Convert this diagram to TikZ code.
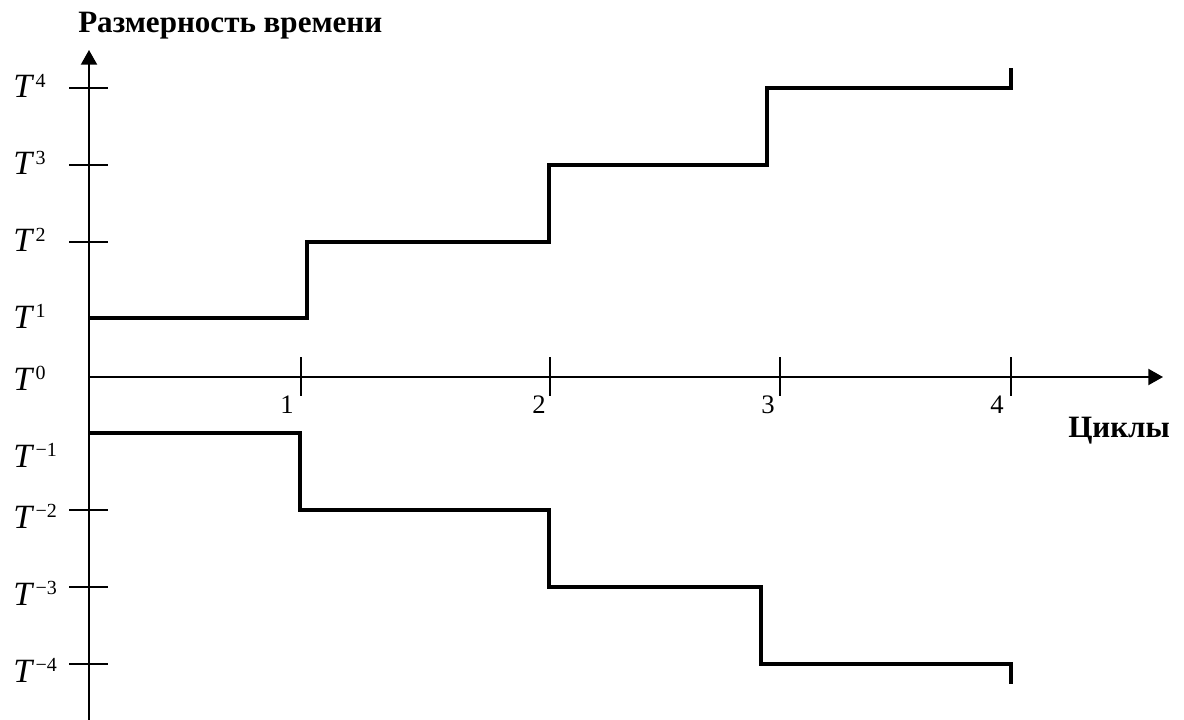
\documentclass[tikz,border=0pt]{standalone}
\usepackage{fontspec}
\setmainfont{Liberation Serif}
\usetikzlibrary{arrows.meta}
\newcommand{\Tpow}[1]{{\fontsize{25.5}{25.5}\selectfont\itshape T\kern2.5pt\raisebox{8pt}{\upshape\fontsize{15}{15}\selectfont #1}}}
\begin{document}
\begin{tikzpicture}[x=0.75pt,y=-0.75pt,
  axis/.style={line width=1.5pt},
  stair/.style={line width=2.6pt, line join=miter},
  tlab/.style={anchor=base west, inner sep=0pt},
  xlab/.style={anchor=base east, inner sep=0pt, font=\fontsize{20}{20}\selectfont},
  title/.style={inner sep=0pt, font=\fontsize{23.3}{23.3}\selectfont\bfseries},
  tip/.style={-{Triangle[length=11pt,width=12pt]}}]
\useasboundingbox (0,0) rectangle (1184,720);
% axes
\coordinate (ybot) at (89,720);
\coordinate (ytop) at (89,50);
\coordinate (xorg) at (89,377);
\coordinate (xend) at (1163,377);
\draw[axis,tip] (ybot) -- (ytop);
\draw[axis,tip] (xorg) -- (xend);
% y ticks
\foreach \yy in {88,165,242,510,587,664}
  \draw[axis] (69,\yy) -- (108,\yy);
% x ticks
\foreach \xx in {301,550,780,1011}
  \draw[axis] (\xx,357) -- (\xx,396);
% staircases
\draw[stair] (89,318) -- (307,318) -- (307,242) -- (549,242) -- (549,165)
  -- (767,165) -- (767,88) -- (1011,88) -- (1011,68);
\draw[stair] (89,433) -- (300,433) -- (300,510) -- (549,510) -- (549,587)
  -- (761,587) -- (761,664) -- (1011,664) -- (1011,684);
% labels
\node[title, anchor=base west] (ttl) at (78,33) {Размерность времени};
\node[title, anchor=base west] (cyc) at (1068,437) {Циклы};
\node[tlab] (t4) at (13,98) {\Tpow{4}};
\node[tlab] (t3) at (13,175) {\Tpow{3}};
\node[tlab] (t2) at (13,252) {\Tpow{2}};
\node[tlab] (t1) at (13,328) {\Tpow{1}};
\node[tlab] (t0) at (13,390) {\Tpow{0}};
\node[tlab] (tm1) at (13,467) {\Tpow{−1}};
\node[tlab] (tm2) at (13,528) {\Tpow{−2}};
\node[tlab] (tm3) at (13,605) {\Tpow{−3}};
\node[tlab] (tm4) at (13,682) {\Tpow{−4}};
\node[xlab] (x1) at (294,413) {1};
\node[xlab] (x2) at (546,413) {2};
\node[xlab] (x3) at (775,413) {3};
\node[xlab] (x4) at (1004,413) {4};
\end{tikzpicture}
\end{document}
